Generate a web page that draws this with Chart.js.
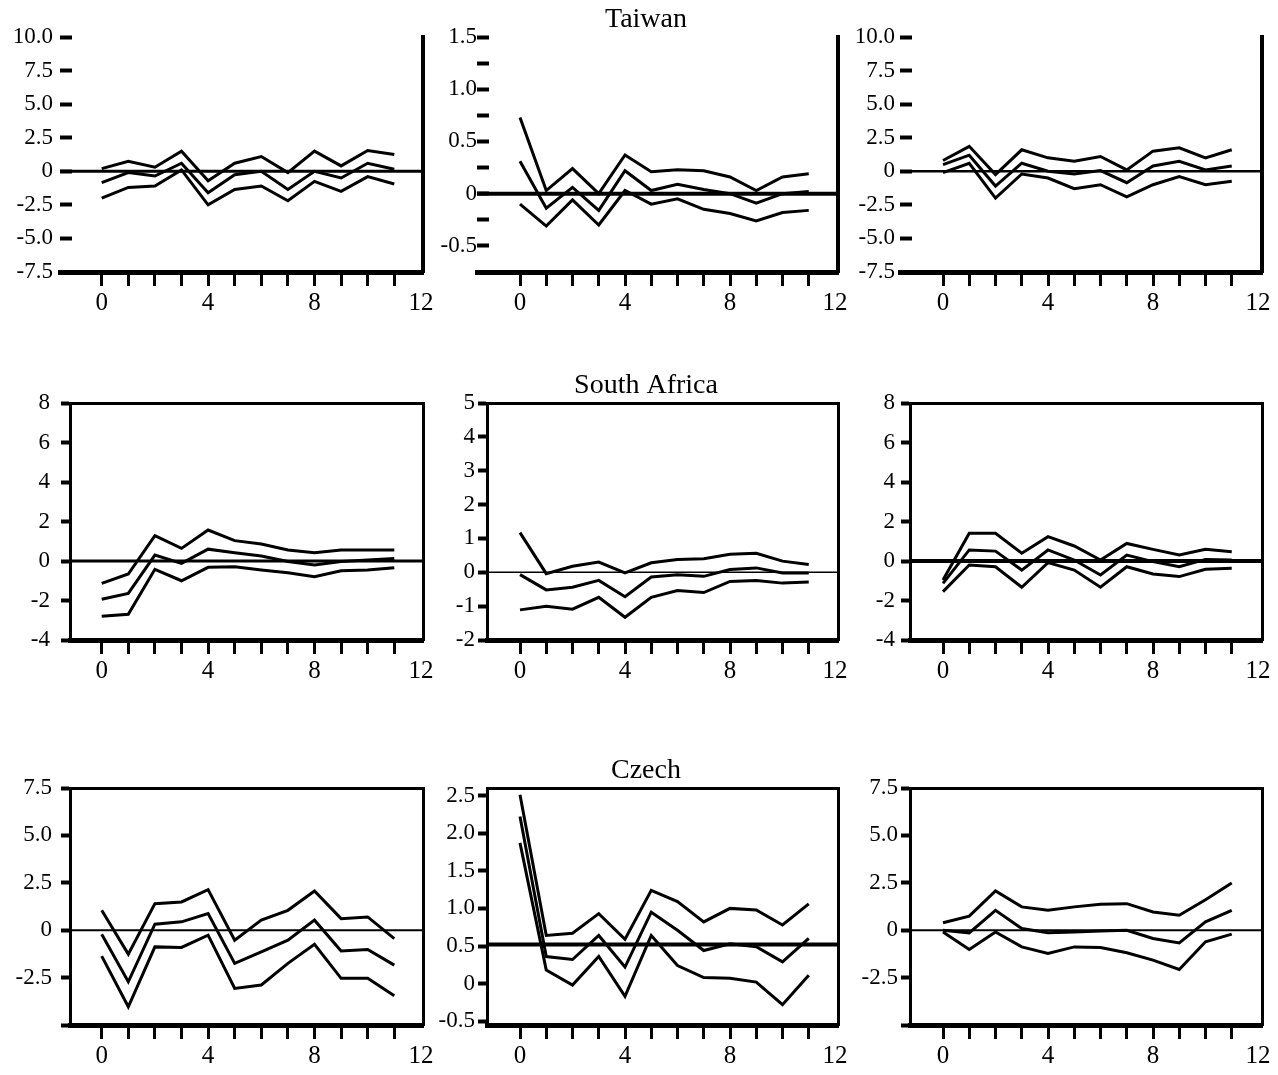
<!DOCTYPE html>
<html><head><meta charset="utf-8">
<script src="https://cdn.jsdelivr.net/npm/chart.js@4.4.1/dist/chart.umd.min.js"></script>
<style>
html,body{margin:0;padding:0;background:#fff;overflow:hidden;width:1278px;height:1075px;position:relative;}
canvas{position:absolute;}
</style></head><body>
<script>
// ---------- DATA ----------
const horizons = [0,1,2,3,4,5,6,7,8,9,10,11];
const xTickValues = [0,1,2,3,4,5,6,7,8,9,10,11,12];
const xTickLabels = ['0','','','','4','','','','8','','','','12'];
const rowTitles = ['Taiwan','South Africa','Czech'];

// Taiwan
const taiwan1Upper = [0.2, 0.75, 0.3, 1.5, -0.7, 0.6, 1.1, -0.1, 1.5, 0.4, 1.55, 1.25];
const taiwan1Mid   = [-0.85, -0.1, -0.35, 0.6, -1.6, -0.25, 0.0, -1.35, 0.0, -0.5, 0.6, 0.15];
const taiwan1Lower = [-2.0, -1.2, -1.1, 0.1, -2.5, -1.35, -1.1, -2.2, -0.75, -1.5, -0.4, -0.95];

const taiwan2Upper = [0.73, 0.03, 0.24, 0.0, 0.37, 0.21, 0.23, 0.22, 0.16, 0.03, 0.16, 0.19];
const taiwan2Mid   = [0.31, -0.14, 0.06, -0.16, 0.22, 0.03, 0.09, 0.04, 0.0, -0.09, 0.0, 0.02];
const taiwan2Lower = [-0.1, -0.31, -0.06, -0.3, 0.03, -0.1, -0.05, -0.15, -0.19, -0.26, -0.18, -0.16];

const taiwan3Upper = [0.8, 1.86, -0.25, 1.6, 1.0, 0.75, 1.1, 0.1, 1.5, 1.75, 1.0, 1.6];
const taiwan3Mid   = [0.5, 1.2, -1.1, 0.6, 0.0, -0.2, 0.05, -0.85, 0.4, 0.75, 0.1, 0.4];
const taiwan3Lower = [-0.1, 0.6, -2.0, -0.2, -0.5, -1.3, -1.0, -1.9, -1.0, -0.4, -1.0, -0.75];

// South Africa
const southAfrica1Upper = [-1.13, -0.66, 1.28, 0.64, 1.57, 1.03, 0.86, 0.56, 0.42, 0.56, 0.56, 0.56];
const southAfrica1Mid   = [-1.94, -1.64, 0.3, -0.12, 0.6, 0.42, 0.25, -0.03, -0.2, -0.03, 0.05, 0.13];
const southAfrica1Lower = [-2.8, -2.7, -0.42, -1.0, -0.32, -0.29, -0.46, -0.6, -0.8, -0.49, -0.46, -0.34];

const southAfrica2Upper = [1.17, -0.04, 0.18, 0.3, -0.02, 0.28, 0.38, 0.4, 0.53, 0.56, 0.33, 0.23];
const southAfrica2Mid   = [-0.07, -0.52, -0.44, -0.24, -0.72, -0.14, -0.07, -0.12, 0.08, 0.13, -0.02, -0.02];
const southAfrica2Lower = [-1.11, -1.0, -1.09, -0.74, -1.33, -0.74, -0.54, -0.6, -0.27, -0.24, -0.32, -0.29];

const southAfrica3Upper = [-0.96, 1.4, 1.4, 0.39, 1.23, 0.76, 0.05, 0.89, 0.59, 0.3, 0.59, 0.47];
const southAfrica3Mid   = [-1.13, 0.56, 0.5, -0.46, 0.56, 0.05, -0.71, 0.3, -0.03, -0.29, 0.08, 0.05];
const southAfrica3Lower = [-1.55, -0.2, -0.29, -1.33, -0.08, -0.46, -1.33, -0.29, -0.66, -0.79, -0.42, -0.37];

// Czech
const czech1Upper = [1.05, -1.26, 1.4, 1.49, 2.14, -0.53, 0.53, 1.05, 2.07, 0.61, 0.7, -0.44];
const czech1Mid   = [-0.21, -2.72, 0.32, 0.44, 0.88, -1.75, -1.14, -0.53, 0.53, -1.1, -1.02, -1.84];
const czech1Lower = [-1.37, -4.04, -0.88, -0.91, -0.26, -3.07, -2.89, -1.75, -0.74, -2.54, -2.54, -3.46];

const czech2Upper = [2.51, 0.64, 0.67, 0.93, 0.59, 1.24, 1.09, 0.82, 1.0, 0.98, 0.78, 1.06];
const czech2Mid   = [2.22, 0.36, 0.32, 0.64, 0.22, 0.95, 0.71, 0.44, 0.53, 0.49, 0.29, 0.6];
const czech2Lower = [1.87, 0.18, -0.02, 0.36, -0.17, 0.64, 0.24, 0.08, 0.07, 0.02, -0.28, 0.11];

const czech3Upper = [0.39, 0.74, 2.07, 1.23, 1.05, 1.23, 1.37, 1.4, 0.96, 0.79, 1.61, 2.49];
const czech3Mid   = [0.0, -0.14, 1.05, 0.09, -0.14, -0.09, -0.04, 0.0, -0.44, -0.67, 0.44, 1.05];
const czech3Lower = [-0.09, -1.02, -0.09, -0.88, -1.23, -0.88, -0.91, -1.19, -1.58, -2.07, -0.61, -0.21];

// Horizontal reference levels, one per panel (row by row)
const refLevels = [0, 0, 0, 0, 0, 0, 0, 0.52, 0];

// Y tick values and labels
const yTicksTaiwanSide  = [-7.5, -5, -2.5, 0, 2.5, 5, 7.5, 10];
const yLabelsTaiwanSide = ['-7.5', '-5.0', '-2.5', '0', '2.5', '5.0', '7.5', '10.0'];
const yTicksTaiwanMid   = [-0.75, -0.5, -0.25, 0, 0.25, 0.5, 0.75, 1, 1.25, 1.5];
const yLabelsTaiwanMid  = ['', '-0.5', '', '0', '', '0.5', '', '1.0', '', '1.5'];
const yTicksSASide  = [-4, -2, 0, 2, 4, 6, 8];
const yLabelsSASide = ['-4', '-2', '0', '2', '4', '6', '8'];
const yTicksSAMid   = [-2, -1, 0, 1, 2, 3, 4, 5];
const yLabelsSAMid  = ['-2', '-1', '0', '1', '2', '3', '4', '5'];
const yTicksCzechSide  = [-5, -2.5, 0, 2.5, 5, 7.5];
const yLabelsCzechSide = ['', '-2.5', '0', '2.5', '5.0', '7.5'];
const yTicksCzechMid   = [-0.5, 0, 0.5, 1, 1.5, 2, 2.5];
const yLabelsCzechMid  = ['-0.5', '0', '0.5', '1.0', '1.5', '2.0', '2.5'];

// ---------- LAYOUT / STYLE ----------
const layoutRows = [
  {top: 37, bottom: 272, left: [60, 477, 900]},
  {top: 403, bottom: 640, left: [70, 487, 910]},
  {top: 788, bottom: 1025, left: [70, 487, 910]}
];
const areaRight = [423, 838, 1262];
const zeroPx = [101.7, 520, 943];
const pxPerUnit = [26.6, 26.25, 26.25];
const TITLE_CX = 646;
const Y_AXIS_W = 60, X_AXIS_H = 48, TOP_SPACE = 37;
const FONT = "'Liberation Serif', 'DejaVu Serif', serif";

const panels = [
  {row:0, col:0, u:taiwan1Upper, m:taiwan1Mid, l:taiwan1Lower, yMin:-7.5, yMax:10, yt:yTicksTaiwanSide, yl:yLabelsTaiwanSide, refW:3, yPad:19},
  {row:0, col:1, u:taiwan2Upper, m:taiwan2Mid, l:taiwan2Lower, yMin:-0.75, yMax:1.5, yt:yTicksTaiwanMid, yl:yLabelsTaiwanMid, refW:4, yPad:12},
  {row:0, col:2, u:taiwan3Upper, m:taiwan3Mid, l:taiwan3Lower, yMin:-7.5, yMax:10, yt:yTicksTaiwanSide, yl:yLabelsTaiwanSide, refW:2.5, yPad:17},
  {row:1, col:0, u:southAfrica1Upper, m:southAfrica1Mid, l:southAfrica1Lower, yMin:-4, yMax:8, yt:yTicksSASide, yl:yLabelsSASide, refW:3, yPad:11},
  {row:1, col:1, u:southAfrica2Upper, m:southAfrica2Mid, l:southAfrica2Lower, yMin:-2, yMax:5, yt:yTicksSAMid, yl:yLabelsSAMid, refW:1.5, yPad:3},
  {row:1, col:2, u:southAfrica3Upper, m:southAfrica3Mid, l:southAfrica3Lower, yMin:-4, yMax:8, yt:yTicksSASide, yl:yLabelsSASide, refW:4, yPad:6},
  {row:2, col:0, u:czech1Upper, m:czech1Mid, l:czech1Lower, yMin:-5, yMax:7.5, yt:yTicksCzechSide, yl:yLabelsCzechSide, refW:2, yPad:9},
  {row:2, col:1, u:czech2Upper, m:czech2Mid, l:czech2Lower, yMin:-0.55, yMax:2.6, yt:yTicksCzechMid, yl:yLabelsCzechMid, refW:4, yPad:3},
  {row:2, col:2, u:czech3Upper, m:czech3Mid, l:czech3Lower, yMin:-5, yMax:7.5, yt:yTicksCzechSide, yl:yLabelsCzechSide, refW:2, yPad:3}
];

Chart.defaults.font.family = FONT;
Chart.defaults.color = '#000';

function lineDs(values) {
  return {
    data: horizons.map((h, i) => ({x: h, y: values[i]})),
    borderColor: '#000', borderWidth: 3, pointRadius: 0, tension: 0, fill: false
  };
}

panels.forEach((p, idx) => {
  const L = layoutRows[p.row];
  const areaL = L.left[p.col], areaR = areaRight[p.col];
  const areaW = areaR - areaL;
  const canvasLeft = areaL - Y_AXIS_W;
  const isMiddle = p.col === 1;
  const canvasW = isMiddle ? 2 * (TITLE_CX - canvasLeft) : areaW + Y_AXIS_W + 20;
  const rightW = canvasW - Y_AXIS_W - areaW;
  const canvasTop = L.top - TOP_SPACE;
  const canvasH = TOP_SPACE + (L.bottom - L.top) + X_AXIS_H;
  const xMin = (areaL - zeroPx[p.col]) / pxPerUnit[p.col];
  const xMax = (areaR - zeroPx[p.col]) / pxPerUnit[p.col];
  const titleSize = 28, titleLH = 1.1, titlePadTop = 4, titlePadBottom = 2;
  const titleH = isMiddle ? titleSize * titleLH + titlePadTop + titlePadBottom : 0;
  const topAxisH = TOP_SPACE - titleH;
  const boxed = p.row > 0;

  const cv = document.createElement('canvas');
  cv.width = canvasW; cv.height = canvasH;
  cv.style.left = canvasLeft + 'px'; cv.style.top = canvasTop + 'px';
  cv.style.width = canvasW + 'px'; cv.style.height = canvasH + 'px';
  document.body.appendChild(cv);

  const ref = refLevels[idx];
  const refDs = {
    data: [{x: xMin, y: ref}, {x: xMax, y: ref}],
    borderColor: '#000', borderWidth: p.refW, pointRadius: 0, tension: 0, fill: false
  };

  new Chart(cv, {
    type: 'line',
    data: { datasets: [refDs, lineDs(p.u), lineDs(p.m), lineDs(p.l)] },
    options: {
      responsive: false, animation: false, devicePixelRatio: 1,
      layout: { padding: 0 },
      plugins: {
        legend: { display: false }, tooltip: { enabled: false },
        title: {
          display: isMiddle, text: rowTitles[p.row], color: '#000',
          font: { family: FONT, size: titleSize, weight: 'normal', lineHeight: titleLH },
          padding: { top: titlePadTop, bottom: titlePadBottom }
        }
      },
      scales: {
        x: {
          type: 'linear', position: 'bottom', min: xMin, max: xMax, bounds: 'data',
          afterBuildTicks: a => { a.ticks = xTickValues.map(v => ({value: v})); },
          afterFit: a => { a.height = X_AXIS_H; },
          ticks: { autoSkip: false, maxRotation: 0, minRotation: 0, padding: 2, color: '#000',
                   font: { size: 25 }, callback: (v, i) => xTickLabels[i] },
          grid: { display: true, drawOnChartArea: false, drawTicks: true, tickLength: 14, tickWidth: 3,
                  tickColor: c => (c.tick && c.tick.value === 12) ? 'rgba(0,0,0,0)' : '#000' },
          border: { display: true, width: 5, color: '#000' }
        },
        y: {
          type: 'linear', position: 'left', min: p.yMin, max: p.yMax, bounds: 'data',
          afterBuildTicks: a => { a.ticks = p.yt.map(v => ({value: v})); },
          afterFit: a => { a.width = Y_AXIS_W; },
          ticks: { autoSkip: false, padding: p.yPad, color: '#000', font: { size: 23 },
                   callback: (v, i) => p.yl[i] },
          grid: { display: true, drawOnChartArea: false, drawTicks: true,
                  tickLength: boxed ? 9 : -12, tickWidth: 4, tickColor: '#000' },
          border: { display: boxed, width: 3, color: '#000' }
        },
        xTop: {
          type: 'linear', position: 'top', axis: 'x', min: xMin, max: xMax, display: true,
          afterFit: a => { a.height = topAxisH; },
          ticks: { display: false }, grid: { display: false },
          border: { display: boxed, width: 3, color: '#000' }
        },
        yRight: {
          type: 'linear', position: 'right', axis: 'y', min: p.yMin, max: p.yMax, display: true,
          afterFit: a => { a.width = rightW; },
          ticks: { display: false }, grid: { display: false },
          border: { display: true, width: boxed ? 3 : 4, color: '#000' }
        }
      }
    }
  });
});
</script>
</body></html>
